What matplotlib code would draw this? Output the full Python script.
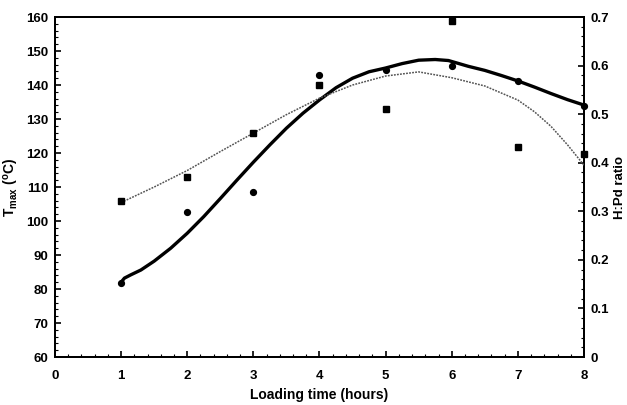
import matplotlib
matplotlib.use("Agg")
import matplotlib.pyplot as plt
from matplotlib.ticker import MultipleLocator

plt.rcParams['font.family'] = ['Liberation Sans', 'DejaVu Sans']
plt.rcParams['mathtext.fontset'] = 'custom'
plt.rcParams['mathtext.rm'] = 'Liberation Sans'
plt.rcParams['mathtext.bf'] = 'Liberation Sans:bold'
plt.rcParams['mathtext.default'] = 'bf'

# Measured points
hours = [1, 2, 3, 4, 5, 6, 7, 8]
tmax = [81.8, 102.7, 108.5, 143.0, 144.4, 145.7, 141.3, 133.9]
hpd = [0.321, 0.370, 0.461, 0.560, 0.510, 0.692, 0.433, 0.418]

# Fitted curves
tmax_fit_x = [1.0, 1.05, 1.15, 1.3, 1.5, 1.75, 2.0, 2.25, 2.5, 2.75, 3.0, 3.25, 3.5, 3.75, 4.0,
              4.25, 4.5, 4.75, 5.0, 5.25, 5.5, 5.75, 5.95, 6.25, 6.5, 6.75, 7.0, 7.25, 7.5, 7.75, 8.0]
tmax_fit_y = [82.0, 83.2, 84.2, 85.6, 88.2, 92.0, 96.4, 101.3, 106.6, 112.0, 117.3, 122.4, 127.3, 131.7, 135.6,
              139.2, 142.0, 143.9, 145.0, 146.3, 147.3, 147.5, 147.2, 145.5, 144.3, 142.8, 141.2, 139.4, 137.5, 135.7, 134.1]

hpd_fit_x = [1.0, 1.5, 2.0, 2.5, 3.0, 3.5, 4.0, 4.5, 5.0, 5.5, 6.0, 6.5, 7.0, 7.25, 7.5, 7.75, 8.0]
hpd_fit_y = [0.318, 0.350, 0.384, 0.423, 0.461, 0.499, 0.533, 0.560, 0.5785, 0.587, 0.575, 0.558, 0.529,
             0.505, 0.475, 0.437, 0.395]

fig = plt.figure(figsize=(6.27, 4.05), dpi=100)
ax = fig.add_axes([0.0877, 0.1185, 0.8437, 0.8395])
ax2 = ax.twinx()

ax.plot(tmax_fit_x, tmax_fit_y, color='black', lw=2.4, solid_capstyle='round',
        solid_joinstyle='round', zorder=3)
ax.plot(hours, tmax, 'o', color='black', ms=4.2, zorder=4, clip_on=False)
ax2.plot(hpd_fit_x, hpd_fit_y, color='#555555', lw=1.1, ls=(0, (1.2, 0.8)), zorder=3)
ax2.plot(hours, hpd, 's', color='black', ms=4.2, zorder=4, clip_on=False)

ax.set_xlim(0, 8)
ax.set_ylim(60, 160)
ax2.set_ylim(0, 0.7)

ax.xaxis.set_major_locator(MultipleLocator(1))
ax.xaxis.set_minor_locator(MultipleLocator(0.2))
ax.yaxis.set_major_locator(MultipleLocator(10))
ax.yaxis.set_minor_locator(MultipleLocator(2))
ax2.yaxis.set_minor_locator(MultipleLocator(0.02))
ax2.set_yticks([0, 0.1, 0.2, 0.3, 0.4, 0.5, 0.6, 0.7])
ax2.set_yticklabels(['0', '0.1', '0.2', '0.3', '0.4', '0.5', '0.6', '0.7'])

for a in (ax, ax2):
    a.tick_params(which='major', direction='in', length=4, width=1.2, labelsize=9.5, pad=5)
    a.tick_params(which='minor', direction='in', length=2, width=0.8)
    for s in a.spines.values():
        s.set_linewidth(1.4)
ax.tick_params(axis='x', which='major', pad=9)
for lbl in ax.get_xticklabels() + ax.get_yticklabels() + ax2.get_yticklabels():
    lbl.set_fontweight('bold')

ax.set_xlabel('Loading time (hours)', fontsize=10, fontweight='bold', va='center', ha='center')
ax.xaxis.set_label_coords(0.5, -0.112)
ax.set_ylabel(r'T$_{max}$ ($^{o}$C)', fontsize=10, fontweight='bold', va='center', ha='center')
ax.yaxis.set_label_coords(-0.082, 0.5)
ax2.set_ylabel('H:Pd ratio', fontsize=9.5, fontweight='bold', va='center', ha='center')
ax2.yaxis.set_label_coords(1.068, 0.5)

fig.savefig('out.png', dpi=100)
